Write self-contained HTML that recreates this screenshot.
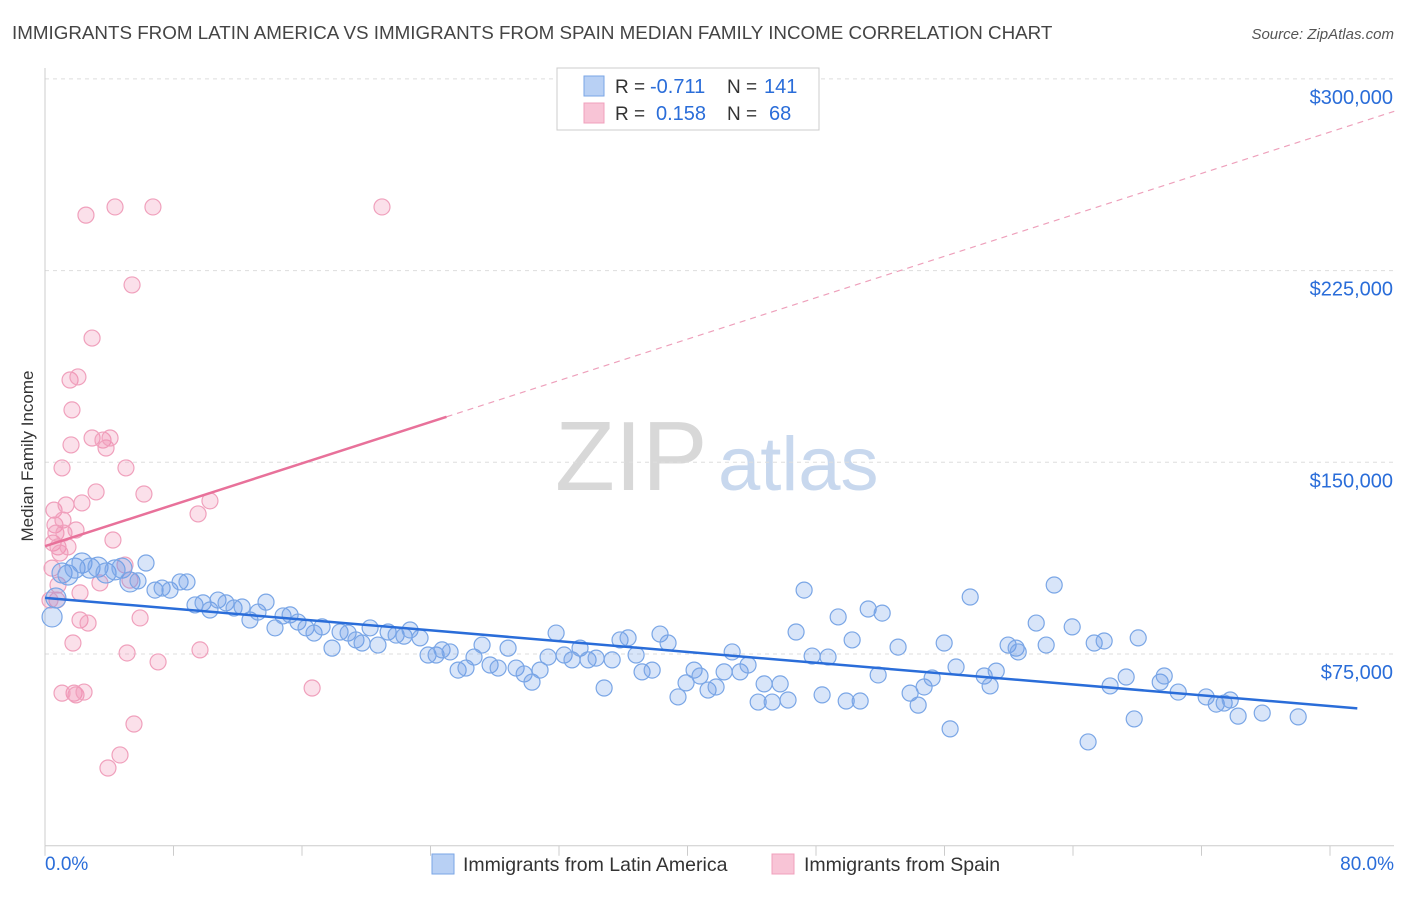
<!DOCTYPE html>
<html><head><meta charset="utf-8"><style>
body{margin:0;background:#fff;font-family:"Liberation Sans",sans-serif}
svg text{font-family:"Liberation Sans",sans-serif}
</style></head><body>
<svg id="c" width="1406" height="892">
<text x="12" y="39" font-size="18.8" fill="#444">IMMIGRANTS FROM LATIN AMERICA VS IMMIGRANTS FROM SPAIN MEDIAN FAMILY INCOME CORRELATION CHART</text>
<text x="1394" y="39" font-size="15" fill="#555" font-style="italic" text-anchor="end">Source: ZipAtlas.com</text>
<text x="33" y="456" font-size="17" fill="#333" text-anchor="middle" transform="rotate(-90 33 456)">Median Family Income</text>
<text x="555" y="490" font-size="98" fill="#d8d8d8" font-family="Liberation Serif">ZIP</text>
<text x="718" y="490" font-size="76" fill="#c8d8ee">atlas</text>
<g id="grid"></g><g id="pts"></g><g id="trend"></g>
<g>
<rect x="557" y="68" width="262" height="62" fill="#fff" stroke="#ccc"/>
<rect x="584" y="76" width="20" height="20" fill="#b8d0f4" stroke="#7aa6e6"/>
<rect x="584" y="103" width="20" height="20" fill="#f8c4d6" stroke="#f0a0bc"/>
<text x="615" y="93" font-size="19" fill="#333">R =</text>
<text x="650" y="93" font-size="20" fill="#2a6dd9">-0.711</text>
<text x="727" y="93" font-size="19" fill="#333">N =</text>
<text x="764" y="93" font-size="20" fill="#2a6dd9">141</text>
<text x="615" y="120" font-size="19" fill="#333">R =</text>
<text x="656" y="120" font-size="20" fill="#2a6dd9">0.158</text>
<text x="727" y="120" font-size="19" fill="#333">N =</text>
<text x="769" y="120" font-size="20" fill="#2a6dd9">68</text>
</g>
<g>
<rect x="432" y="854" width="22" height="20" fill="#b8d0f4" stroke="#7aa6e6"/>
<text x="463" y="871" font-size="19.5" fill="#333">Immigrants from Latin America</text>
<rect x="772" y="854" width="22" height="20" fill="#f8c4d6" stroke="#f0a0bc"/>
<text x="804" y="871" font-size="19.5" fill="#333">Immigrants from Spain</text>
</g>
</svg>
<script>
const yTicks=[75000,150000,225000,300000];
const yTickLabels=["$75,000","$150,000","$225,000","$300,000"];
const xTicks=[0,8,16,24,32,40,48,56,64,72,80];
const xEndLabels=["0.0%","80.0%"];
const blueX=[0.44,0.68,1.06,1.43,1.87,2.30,2.80,3.30,3.80,4.36,4.79,5.29,5.79,6.29,6.85,7.29,7.78,8.41,8.84,9.34,9.84,10.27,10.77,11.27,11.77,12.27,12.76,13.26,13.76,14.32,14.82,15.26,15.75,16.25,16.75,17.25,17.87,18.37,18.87,19.36,19.74,20.24,20.73,21.36,21.86,22.35,22.73,23.35,23.85,24.35,24.72,25.22,25.72,26.21,26.71,27.21,27.71,28.21,28.83,29.33,29.83,30.32,30.82,31.32,31.82,32.32,32.81,33.31,33.81,34.31,34.81,35.31,35.80,36.30,36.80,37.17,37.80,38.29,38.79,39.41,39.91,40.41,40.78,41.28,41.78,42.28,42.78,43.28,43.77,44.40,44.77,45.27,45.77,46.26,46.76,47.26,47.76,48.38,48.75,49.38,49.88,50.25,50.75,51.25,51.87,52.12,53.11,53.86,54.36,54.73,55.23,55.98,56.35,56.72,57.60,58.47,58.84,59.22,59.96,60.46,60.59,61.71,62.33,62.83,63.95,64.94,65.32,65.94,66.31,67.31,67.81,68.06,69.43,69.68,70.55,72.29,72.92,73.41,73.79,74.28,75.78,78.02];
const blueY=[89.5,96.9,106.7,105.9,108.6,110.6,108.6,109.0,106.7,107.9,108.6,103.2,103.6,110.6,100.0,100.8,100.0,103.2,103.2,94.2,95.0,92.2,96.1,95.0,93.0,93.4,88.3,91.4,95.3,85.2,89.9,90.3,87.5,85.2,83.2,85.6,77.3,83.6,83.2,80.5,79.3,85.2,78.5,83.6,82.4,82.0,84.4,81.3,74.6,74.6,76.6,75.8,68.7,69.5,73.8,78.5,70.7,69.5,77.3,69.5,67.2,64.0,68.7,73.8,83.2,74.6,72.7,77.3,72.7,73.4,61.7,72.7,80.5,81.3,74.6,68.0,68.7,82.8,79.3,58.2,63.7,68.7,66.4,60.9,62.1,68.0,75.8,68.0,70.7,56.2,63.3,56.2,63.3,57.0,83.6,100.0,74.2,59.0,73.8,89.5,56.6,80.5,56.6,92.6,66.8,91.0,77.7,59.7,55.0,62.1,65.6,79.3,45.7,69.9,97.3,66.4,62.5,68.3,78.5,77.3,75.8,87.1,78.5,102.0,85.6,40.6,79.3,80.1,62.5,66.0,49.6,81.3,64.0,66.4,60.1,58.2,55.4,55.8,57.0,50.7,51.9,50.4];
const pinkX=[0.44,0.50,0.56,0.62,0.68,0.75,0.81,0.81,0.93,1.06,1.12,1.18,1.31,1.43,1.56,1.62,1.68,1.74,1.81,1.93,1.93,2.05,2.18,2.18,2.30,2.55,2.68,2.93,2.93,3.18,3.42,3.61,3.80,3.92,4.05,4.23,4.36,4.67,4.98,5.04,5.11,5.29,5.42,5.54,5.92,6.16,6.72,7.04,9.53,9.65,10.27,16.63,20.98,1.06,2.43,0.31];
const pinkY=[108.6,118.4,131.3,125.5,122.3,96.1,102.0,116.9,114.5,147.8,127.4,122.3,133.3,116.9,182.2,156.8,170.5,79.3,59.7,123.5,59.0,183.4,98.9,88.3,134.1,246.7,87.1,198.6,159.5,138.4,102.8,158.7,155.6,30.4,159.5,119.6,249.9,35.5,109.8,147.8,75.4,103.9,219.4,47.6,89.1,137.6,249.9,71.9,129.8,76.6,134.9,61.7,249.9,59.7,60.1,96.1];
const NS="http://www.w3.org/2000/svg";
const X0=45,X1=1330,YB=845.7,PX=(X1-X0)/80;
const sx=p=>X0+p*PX, sy=v=>654-(v-75000)*191.7/75000;
function mk(t,a,parent){const e=document.createElementNS(NS,t);for(const k in a)e.setAttribute(k,a[k]);parent.appendChild(e);return e;}
const grid=document.getElementById('grid');
yTicks.forEach((v,i)=>{
 const l=mk('line',{x1:X0,x2:1394,y1:sy(v),y2:sy(v),stroke:'#ddd','stroke-dasharray':'4,4'},grid);
 
 
 const t=mk('text',{x:1393,y:sy(v)+25,'font-size':20,fill:'#2a6dd9','text-anchor':'end'},grid);t.textContent=yTickLabels[i];
 
 
});
let a=mk('line',{x1:X0,x2:X0,y1:68,y2:YB,stroke:'#ccc'},grid);


a=mk('line',{x1:X0,x2:1394,y1:YB,y2:YB,stroke:'#ccc'},grid);


xTicks.forEach(p=>{const l=mk('line',{x1:sx(p),x2:sx(p),y1:YB,y2:YB+10,stroke:'#ccc'},grid);
 
 });
[[0,'start',X0],[1,'end',1394]].forEach(([i,an,x])=>{const t=mk('text',{x:x,y:870,'font-size':19,fill:'#2a6dd9','text-anchor':an},grid);t.textContent=xEndLabels[i];
 
 });
const pts=document.getElementById('pts');
pinkX.forEach((x,i)=>{const c=mk('circle',{cx:sx(x),cy:sy(pinkY[i]*1000),r:8,fill:'rgba(240,130,170,0.25)',stroke:'#f0a0bc','stroke-width':1.2},pts);
 
 });
blueX.forEach((x,i)=>{const c=mk('circle',{cx:sx(x),cy:sy(blueY[i]*1000),r:i<12?10:8,fill:'rgba(100,150,230,0.25)',stroke:'#7aa6e6','stroke-width':1.2},pts);
 
 });
function reg(xs,ys){const n=xs.length;let mx=0,my=0;xs.forEach((x,i)=>{mx+=x;my+=ys[i]});mx/=n;my/=n;let sxy=0,sxx=0;xs.forEach((x,i)=>{sxy+=(x-mx)*(ys[i]-my);sxx+=(x-mx)**2});const b=sxy/sxx;return [my-b*mx,b];}
const tr=document.getElementById('trend');
const [ba,bb]=reg(blueX,blueY);
let l=mk('line',{x1:sx(0),y1:sy((ba)*1000),x2:sx(81.7),y2:sy((ba+bb*81.7)*1000),stroke:'#2a6dd9','stroke-width':2.5},tr);


const [pa,pb]=reg(pinkX,pinkY);
l=mk('line',{x1:sx(0),y1:sy(pa*1000),x2:sx(25),y2:sy((pa+pb*25)*1000),stroke:'#e8719a','stroke-width':2.5},tr);


l=mk('line',{x1:sx(25),y1:sy((pa+pb*25)*1000),x2:sx(84),y2:sy((pa+pb*84)*1000),stroke:'#eea0bb','stroke-width':1.2,'stroke-dasharray':'6,5'},tr);


</script>
</body></html>
